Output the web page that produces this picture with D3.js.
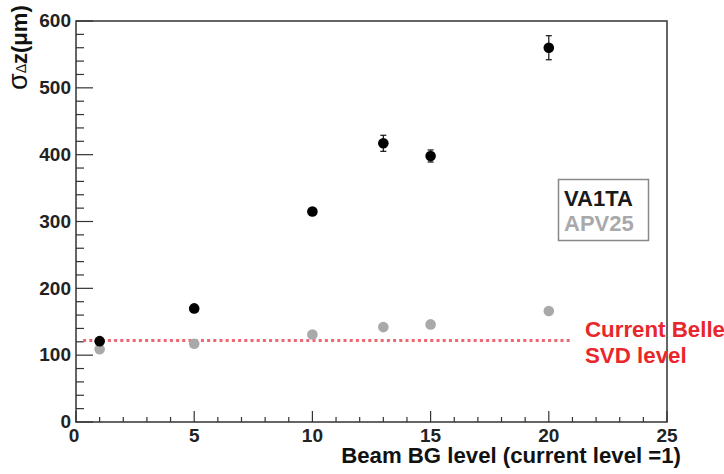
<!DOCTYPE html>
<html>
<head>
<meta charset="utf-8">
<script src="https://cdn.jsdelivr.net/npm/d3@7"></script>
<style>
  body { margin: 0; background: #fff; }
  text { font-family: "Liberation Sans", Arial, sans-serif; font-weight: bold; }
</style>
</head>
<body>
<div id="wrapper"></div>
<script>
// data
const bgLevels = [1, 5, 10, 13, 15, 20]
const va1ta = [121, 170, 315, 417, 398, 560]
const va1taErr = [0, 0, 0, 12, 9, 18]
const apv25 = [109, 117, 131, 142, 146, 166]
const belleLevel = 122
const belleRange = [0.3, 20.9]
const xTicks = [0, 5, 10, 15, 20, 25]
const yTicks = [0, 100, 200, 300, 400, 500, 600]

const dimensions = {
    width: 724,
    height: 474,
    margin: { top: 21, right: 57, bottom: 52, left: 76 },
}
dimensions.boundedWidth = dimensions.width - dimensions.margin.left - dimensions.margin.right
dimensions.boundedHeight = dimensions.height - dimensions.margin.top - dimensions.margin.bottom

const wrapper = d3.select("#wrapper")
    .append("svg")
    .attr("width", dimensions.width)
    .attr("height", dimensions.height)

const bounds = wrapper.append("g")
    .attr("transform", `translate(${dimensions.margin.left},${dimensions.margin.top})`)

const xScale = d3.scaleLinear()
    .domain([0, 25])
    .range([0, dimensions.boundedWidth])
const yScale = d3.scaleLinear()
    .domain([0, 600])
    .range([dimensions.boundedHeight, 0])

const axisColor = "#333"

// frame
bounds.append("rect")
    .attr("x", 0).attr("y", 0)
    .attr("width", dimensions.boundedWidth)
    .attr("height", dimensions.boundedHeight)
    .attr("fill", "none")
    .attr("stroke", axisColor)
    .attr("stroke-width", 1.5)

// y axis (ticks point inward)
const yMinor = d3.range(0, 601, 20).filter(v => v % 100 !== 0)
const yAxis = bounds.append("g")
yAxis.selectAll(".minor").data(yMinor).join("line")
    .attr("x1", 0).attr("x2", 8)
    .attr("y1", d => yScale(d)).attr("y2", d => yScale(d))
    .attr("stroke", axisColor).attr("stroke-width", 1.2)
yAxis.selectAll(".major").data(yTicks).join("line")
    .attr("x1", 0).attr("x2", 17)
    .attr("y1", d => yScale(d)).attr("y2", d => yScale(d))
    .attr("stroke", axisColor).attr("stroke-width", 1.2)
yAxis.selectAll("text").data(yTicks).join("text")
    .attr("x", -5)
    .attr("y", d => yScale(d))
    .attr("dy", "0.33em")
    .attr("text-anchor", "end")
    .attr("font-size", 19)
    .attr("fill", "#222")
    .text(d => d)

// x axis
const xMinor = d3.range(0, 26, 1).filter(v => v % 5 !== 0)
const xAxis = bounds.append("g")
    .attr("transform", `translate(0,${dimensions.boundedHeight})`)
xAxis.selectAll(".minor").data(xMinor).join("line")
    .attr("x1", d => xScale(d)).attr("x2", d => xScale(d))
    .attr("y1", 0).attr("y2", -5)
    .attr("stroke", axisColor).attr("stroke-width", 1.2)
xAxis.selectAll(".major").data(xTicks).join("line")
    .attr("x1", d => xScale(d)).attr("x2", d => xScale(d))
    .attr("y1", 0).attr("y2", -11)
    .attr("stroke", axisColor).attr("stroke-width", 1.2)
xAxis.selectAll("text").data(xTicks).join("text")
    .attr("x", d => xScale(d) - (d === 0 ? 2 : 0))
    .attr("y", 19.5)
    .attr("text-anchor", "middle")
    .attr("font-size", 19)
    .attr("fill", "#222")
    .text(d => d)

// axis titles
wrapper.append("text")
    .attr("x", 681)
    .attr("y", 463)
    .attr("text-anchor", "end")
    .attr("font-size", 22.2)
    .attr("fill", "#111")
    .text("Beam BG level (current level =1)")

const yTitle = wrapper.append("text")
    .attr("transform", "translate(27,90) rotate(-90)")
    .attr("font-size", 22)
    .attr("fill", "#111")
yTitle.append("tspan").attr("font-size", 27).attr("font-weight", "normal").text("σ")
yTitle.append("tspan").attr("font-size", 14).attr("font-weight", "normal").attr("dy", -1).text("Δ")
yTitle.append("tspan").attr("font-size", 22).attr("dy", 1).text("z(μm)")

// current Belle SVD level
bounds.append("line")
    .attr("x1", xScale(belleRange[0])).attr("x2", xScale(belleRange[1]))
    .attr("y1", yScale(belleLevel)).attr("y2", yScale(belleLevel))
    .attr("stroke", "#ef6672")
    .attr("stroke-width", 3)
    .attr("stroke-dasharray", "3,3.2")

const belleLabel = wrapper.append("text")
    .attr("font-size", 22.3)
    .attr("fill", "#e8262b")
belleLabel.append("tspan").attr("x", 585).attr("y", 337).text("Current Belle")
belleLabel.append("tspan").attr("x", 585).attr("y", 363).text("SVD level")

// APV25 points
bounds.selectAll(".apv").data(bgLevels).join("circle")
    .attr("cx", d => xScale(d))
    .attr("cy", (d, i) => yScale(apv25[i]))
    .attr("r", 5.3)
    .attr("fill", "#a9a9ab")

// VA1TA error bars and points
const va = bgLevels.map((d, i) => ({ x: d, y: va1ta[i], e: va1taErr[i] }))
const errs = bounds.append("g").selectAll("g").data(va.filter(d => d.e > 0)).join("g")
errs.append("line")
    .attr("x1", d => xScale(d.x)).attr("x2", d => xScale(d.x))
    .attr("y1", d => yScale(d.y - d.e)).attr("y2", d => yScale(d.y + d.e))
    .attr("stroke", "#111").attr("stroke-width", 1.2)
errs.selectAll(".cap").data(d => [d.y - d.e, d.y + d.e].map(v => ({ x: d.x, v })))
    .join("line")
    .attr("x1", d => xScale(d.x) - 3).attr("x2", d => xScale(d.x) + 3)
    .attr("y1", d => yScale(d.v)).attr("y2", d => yScale(d.v))
    .attr("stroke", "#111").attr("stroke-width", 1.2)
bounds.append("g").selectAll("circle").data(va).join("circle")
    .attr("cx", d => xScale(d.x))
    .attr("cy", d => yScale(d.y))
    .attr("r", 5.3)
    .attr("fill", "#000")

// legend
const legend = wrapper.append("g")
legend.append("rect")
    .attr("x", 558.5).attr("y", 179.5)
    .attr("width", 90).attr("height", 61)
    .attr("fill", "#fff")
    .attr("stroke", "#888")
    .attr("stroke-width", 1.5)
legend.append("text")
    .attr("x", 564).attr("y", 206)
    .attr("font-size", 22)
    .attr("fill", "#1a1a1a")
    .text("VA1TA")
legend.append("text")
    .attr("x", 564).attr("y", 231)
    .attr("font-size", 22)
    .attr("fill", "#a9a9ab")
    .text("APV25")
</script>
</body>
</html>
